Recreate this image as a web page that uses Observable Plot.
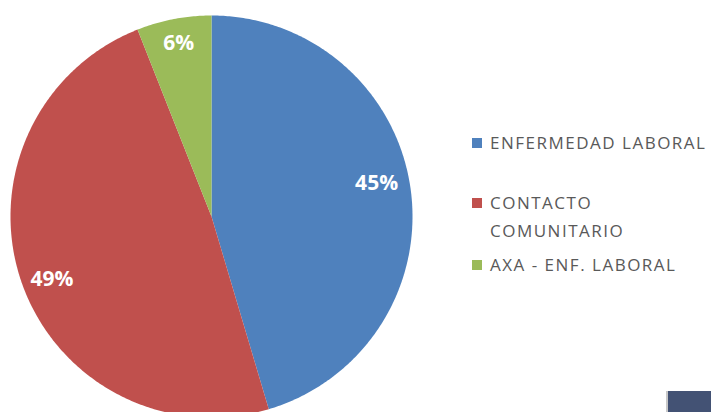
<!DOCTYPE html>
<html><head><meta charset="utf-8">
<script src="https://cdn.jsdelivr.net/npm/d3@7"></script>
<script src="https://cdn.jsdelivr.net/npm/@observablehq/plot@0.6"></script>
<style>
html,body{margin:0;padding:0;background:#fff;width:711px;height:412px;overflow:hidden;}
#wrap{position:relative;width:711px;height:412px;}
#legend{position:absolute;left:472px;top:0;font-family:"Open Sans",sans-serif;font-size:17px;color:#595959;letter-spacing:1.5px;}
.item{position:absolute;white-space:nowrap;}
.sw{position:absolute;width:10px;height:10px;left:0;}
.lbl{position:absolute;left:18px;line-height:28px;}
#box{position:absolute;left:666px;top:391px;width:45px;height:21px;background:#435274;border-left:2px solid #c8c8c8;}
</style></head>
<body><div id="wrap"><div id="chart"></div><div id="legend"></div><div id="box"></div></div>
<script>
const categories = ["ENFERMEDAD LABORAL", "CONTACTO COMUNITARIO", "AXA - ENF. LABORAL"];
const values = [45.4, 48.6, 6.0];
const labels = ["45%", "49%", "6%"];
const colors = ["#4F81BD", "#C0504D", "#9BBB59"];
const legendLines = [["ENFERMEDAD LABORAL"], ["CONTACTO", "COMUNITARIO"], ["AXA - ENF. LABORAL"]];

const pie = d3.pie().sort(null).value(d => d)(values);
const poly = [];
const lab = [];
const frac = [0.83, 0.84, 0.87];
const shift = [-9, 8, -1];
pie.forEach((p, i) => {
  poly.push({x: 0, y: 0, c: categories[i]});
  const n = Math.max(4, Math.ceil((p.endAngle - p.startAngle) / 0.01));
  for (let k = 0; k <= n; k++) {
    const a = p.startAngle + (p.endAngle - p.startAngle) * k / n;
    poly.push({x: Math.sin(a), y: Math.cos(a), c: categories[i]});
  }
  poly.push({x: 0, y: 0, c: categories[i]});
  const m = (p.startAngle + p.endAngle) / 2;
  lab.push({x: frac[i] * Math.sin(m), y: frac[i] * Math.cos(m), t: labels[i], i});
});

const chart = Plot.plot({
  width: 711, height: 412,
  marginLeft: 10, marginRight: 299, marginTop: 15, marginBottom: 0,
  x: {domain: [-1, 1], axis: null},
  y: {domain: [-0.975, 1], axis: null},
  color: {domain: categories, range: colors},
  style: {background: "transparent", overflow: "hidden"},
  marks: [
    Plot.line(poly, {x: "x", y: "y", z: "c", fill: "c", stroke: "none", curve: "linear-closed"}),
    ...lab.map(d => Plot.text([d], {x: "x", y: "y", dy: shift[d.i], text: "t", fill: "white", fontSize: 21, fontWeight: "bold", fontFamily: "Open Sans"}))
  ]
});
document.getElementById("chart").appendChild(chart);

const leg = document.getElementById("legend");
const tops = [143, 203, 265];
legendLines.forEach((lines, i) => {
  const it = document.createElement("div");
  it.className = "item";
  it.style.top = (tops[i] - 14) + "px";
  const sw = document.createElement("div");
  sw.className = "sw"; sw.style.background = colors[i]; sw.style.top = "9px";
  it.appendChild(sw);
  const l = document.createElement("div");
  l.className = "lbl";
  l.innerHTML = lines.join("<br>");
  it.appendChild(l);
  leg.appendChild(it);
});
</script></body></html>
